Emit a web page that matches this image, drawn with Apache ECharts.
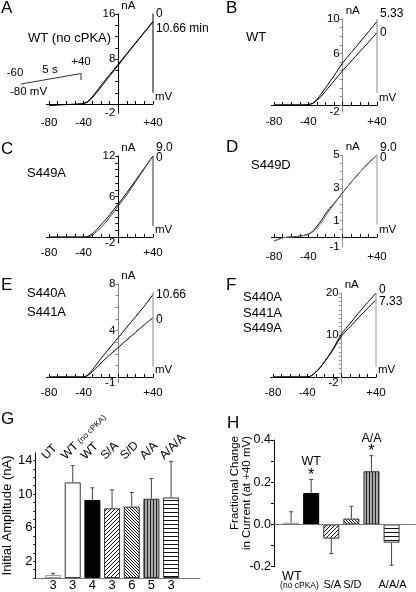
<!DOCTYPE html>
<html><head><meta charset="utf-8">
<script src="https://cdn.jsdelivr.net/npm/echarts@6.0.0/dist/echarts.min.js"></script>
<style>html,body{margin:0;padding:0;background:#fff;}#chart{width:416px;height:592px;}</style>
</head><body><div id="chart"></div>
<script>
// ================= DATA =================
// I-V ramps: membrane potential (mV) and current (nA)
const mV = [-80,-70,-60,-50,-45,-40,-35,-30,-25,-20,-15,-10,0,10,20,30,40];
const A_0min    = [-0.3,-0.15,-0.1,-0.05,0,0.1,0.5,1.3,2.3,3.3,4.3,5.2,7.1,9.0,10.9,12.8,14.7];
const A_1066min = [-0.3,-0.15,-0.1,-0.05,0,0.05,0.4,1.1,2.0,3.0,4.0,5.0,6.9,8.9,10.8,12.7,14.6];
const B_0min    = [0,0,0,0,0,0.05,0.2,0.55,1.0,1.6,2.2,2.8,4.0,5.1,6.2,7.3,8.4];
const B_533min  = [0,0,0,0,0,0.05,0.2,0.65,1.3,2.0,2.7,3.4,4.9,6.1,7.3,8.5,9.7];
const C_0min    = [0,0,0,0,0,0,0.1,0.5,1.1,1.8,2.5,3.3,4.9,6.6,8.4,10.2,12.0];
const C_9min    = [0,0,0,0,0,0,0.02,0.25,0.8,1.4,2.1,2.9,4.6,6.3,8.2,10.1,12.0];
const D_0min    = [-0.25,-0.05,0,0.05,0.1,0.18,0.35,0.65,1.0,1.4,1.75,2.05,2.7,3.35,3.95,4.5,5.0];
const D_9min    = [-0.25,-0.05,0,0.05,0.1,0.15,0.3,0.55,0.85,1.25,1.65,2.0,2.7,3.35,3.95,4.5,5.0];
const E_0min    = [0,0,0,0,0,0,0.15,0.45,0.8,1.2,1.55,1.9,2.55,3.2,3.85,4.5,5.1];
const E_1066min = [0,0,0,0,0,0,0.2,0.6,1.1,1.6,2.05,2.5,3.4,4.3,5.2,6.1,7.1];
const F_0min    = [0,0,0,0,0,0,0.35,1.2,2.3,3.6,5.1,6.7,10.3,12.8,15.3,17.7,20.0];
const F_733min  = [0,0,0,0,0,0,0.35,1.2,2.3,3.6,5.0,6.5,9.8,12.0,14.2,16.3,18.4];
// current trace at the +40 mV step (from, to), nA
const A_step = [16.3, 2.0];
const B_step = [10, 1.4];
const C_step = [12, 1.6];
const D_step = [5, 0.75];
const E_step = [7.3, 0.9];
const F_step = [20, 2.5];
// I-V tick labels
const ivXLabels = [-80, -40, 40];
const A_yLabels = [8, 16],   A_yMinText = '-2';
const B_yLabels = [6, 10],   B_yMinText = '-2';
const C_yLabels = [6, 12],   C_yMinText = '-2';
const D_yLabels = [1, 3, 5], D_yMinText = '-1';
const E_yLabels = [4, 8],    E_yMinText = '-1';
const F_yLabels = [10, 20],  F_yMinText = '-2';

// Panel G
const gCats    = ['UT', 'WT (no cPKA)', 'WT', 'S/A', 'S/D', 'A/A', 'A/A/A'];
const gMean    = [0.35, 11.4, 9.3, 8.3, 8.5, 9.45, 9.6];
const gErrTop  = [0.55, 13.4, 10.75, 10.5, 10.2, 11.85, 13.9];
const gN       = [3, 3, 4, 3, 6, 5, 3];
const gYLabels = [2, 6, 10, 14];

// Panel H
const hCats    = ['WT (no cPKA)', 'WT', 'S/A', 'S/D', 'A/A', 'A/A/A'];
const hMean    = [0.008, 0.149, -0.067, 0.028, 0.252, -0.086];
const hErrEnd  = [0.06, 0.213, -0.138, 0.086, 0.326, -0.193];
const hSig     = [false, true, false, false, true, false];
const hYLabels = [-0.2, 0, 0.2, 0.4];

// ================= STYLE / LAYOUT =================
const FF = "'Liberation Sans',Arial,sans-serif";
const font = s => s + "px 'Liberation Sans',Arial,sans-serif";

function makePattern(kind) {
  const c = document.createElement('canvas');
  const ctx = c.getContext('2d');
  if (kind === 'vert') {
    c.width = 3; c.height = 1;
    ctx.fillStyle = '#aaa'; ctx.fillRect(0,0,3,1);
    ctx.fillStyle = '#222'; ctx.fillRect(0,0,1,1);
    return c;
  }
  if (kind === 'horz') {
    c.width = 1; c.height = 4;
    ctx.fillStyle = '#fff'; ctx.fillRect(0,0,1,4);
    ctx.fillStyle = '#111'; ctx.fillRect(0,0,1,1);
    return c;
  }
  const n = kind === 'fwd' ? 4 : 3;
  c.width = n; c.height = n;
  ctx.fillStyle = '#fff'; ctx.fillRect(0,0,n,n);
  ctx.strokeStyle = '#111'; ctx.lineWidth = 1;
  ctx.beginPath();
  if (kind === 'fwd') {
    ctx.moveTo(-1, n+1); ctx.lineTo(n+1, -1);
    ctx.moveTo(-1, 1); ctx.lineTo(1, -1);
    ctx.moveTo(n-1, n+1); ctx.lineTo(n+1, n-1);
  } else {
    ctx.moveTo(-1, -1); ctx.lineTo(n+1, n+1);
    ctx.moveTo(n-1, -1); ctx.lineTo(n+1, 1);
    ctx.moveTo(-1, n-1); ctx.lineTo(1, n+1);
  }
  ctx.stroke();
  return c;
}
const fills = {
  whiteGray: {color:'#fff', borderColor:'#999', borderWidth:1},
  white:     {color:'#fff', borderColor:'#333', borderWidth:1},
  black:     {color:'#000', borderColor:'#000', borderWidth:1},
  fwd:       {color:{image:makePattern('fwd'), repeat:'repeat'}, borderColor:'#333', borderWidth:1},
  back:      {color:{image:makePattern('back'), repeat:'repeat'}, borderColor:'#333', borderWidth:1},
  vert:      {color:{image:makePattern('vert'), repeat:'repeat'}, borderColor:'#333', borderWidth:1},
  horz:      {color:{image:makePattern('horz'), repeat:'repeat'}, borderColor:'#333', borderWidth:1}
};
const gFill = ['whiteGray','white','black','fwd','back','vert','horz'];
const hFill = ['whiteGray','black','fwd','back','vert','horz'];

const ivPanels = [
  {traces:[[A_0min,'0',-8,'#000'],[A_1066min,'10.66 min',7,'#000']], step:A_step, yLab:A_yLabels, yMin:A_yMinText, tick:2, max:16,
   box:{x0:49,x1:153,y0:104,yTop:14,ext:9}, axisColor:'#000', stepColor:'#000'},
  {traces:[[B_533min,'5.33',-8,'#000'],[B_0min,'0',0,'#000']], step:B_step, yLab:B_yLabels, yMin:B_yMinText, tick:1, max:10,
   box:{x0:274,x1:377,y0:105,yTop:19,ext:7}, axisColor:'#888', stepColor:'#888'},
  {traces:[[C_0min,'9.0',-8,'#000'],[C_9min,'0',2,'#444']], step:C_step, yLab:C_yLabels, yMin:C_yMinText, tick:1, max:12,
   box:{x0:49,x1:153,y0:237,yTop:156,ext:6}, axisColor:'#000', stepColor:'#333'},
  {traces:[[D_0min,'9.0',-7,'#000'],[D_9min,'0',3,'#777']], step:D_step, yLab:D_yLabels, yMin:D_yMinText, tick:0.5, max:5,
   box:{x0:274,x1:377,y0:237,yTop:155,ext:10}, axisColor:'#999', stepColor:'#999'},
  {traces:[[E_1066min,'10.66',0,'#000'],[E_0min,'0',2,'#000']], step:E_step, yLab:E_yLabels, yMin:E_yMinText, tick:1, max:8,
   box:{x0:49,x1:153,y0:377,yTop:284,ext:6}, axisColor:'#888', stepColor:'#888'},
  {traces:[[F_0min,'0',-3,'#000'],[F_733min,'7.33',2,'#000']], step:F_step, yLab:F_yLabels, yMin:F_yMinText, tick:1, max:20,
   box:{x0:273,x1:376,y0:377,yTop:293,ext:6}, axisColor:'#999', stepColor:'#999'}
];

const grid = [], xAxis = [], yAxis = [], series = [];
const lblFont = {fontFamily:FF, fontSize:11.5, color:'#000'};

ivPanels.forEach((p, i) => {
  const b = p.box;
  const sx = (b.x1 - b.x0) / 120, sy = (b.y0 - b.yTop) / p.max;
  const ymin = -b.ext / sy;
  grid.push({left:b.x0 - 3*sx, top:b.yTop, width:123*sx, height:b.y0 - b.yTop + b.ext});
  const xt = []; for (let v = -80; v <= 40; v += 10) xt.push(v);
  const yt = []; for (let v = 0; v <= p.max + 1e-9; v += p.tick) yt.push(+v.toFixed(3));
  xAxis.push({gridIndex:i, type:'value', min:-83, max:40,
    axisLine:{onZero:true, lineStyle:{color:'#000', width:1}},
    axisTick:{customValues:xt, inside:true, length:3, lineStyle:{color:'#000'}},
    axisLabel:Object.assign({customValues:ivXLabels, margin:4, formatter:v => v > 0 ? '+' + v : String(v)}, lblFont),
    splitLine:{show:false},
    name:'mV', nameLocation:'end', nameGap:2,
    nameTextStyle:{fontFamily:FF, fontSize:11.5, color:'#000', align:'left', verticalAlign:'bottom', padding:[0,0,1,0]}});
  // y axis drawn at 0 mV: shifted from the grid's left edge by the span -83..0 mV
  yAxis.push({gridIndex:i, type:'value', min:ymin, max:p.max, position:'left', offset:-83*sx,
    axisLine:{onZero:false, lineStyle:{color:p.axisColor, width:1}},
    axisTick:{customValues:yt, length:3, lineStyle:{color:p.axisColor}},
    axisLabel:Object.assign({customValues:[ymin].concat(p.yLab), margin:3,
      formatter:v => Math.abs(v - ymin) < 1e-6 ? p.yMin : String(v)}, lblFont),
    splitLine:{show:false},
    name:'nA', nameLocation:'end', nameGap:2,
    nameTextStyle:{fontFamily:FF, fontSize:11.5, color:'#000', align:'left', verticalAlign:'bottom', padding:[0,0,0,3]}});
  p.traces.forEach(t => {
    series.push({type:'line', xAxisIndex:i, yAxisIndex:i, smooth:0.3, showSymbol:false, silent:true,
      data:mV.map((x,k) => [x, t[0][k]]),
      lineStyle:{color:t[3], width:1},
      endLabel:{show:true, formatter:t[1], distance:3, offset:[0, t[2]], fontFamily:FF, fontSize:12, color:'#000'}});
  });
  series.push({type:'line', xAxisIndex:i, yAxisIndex:i, showSymbol:false, silent:true,
    data:[[40, p.step[0]], [40, p.step[1]]], lineStyle:{color:p.stepColor, width:1}});
});

// ---------- bar panels: error bars + category texts placed through the axes' scales ----------
function errRender(params, api) {
  const isH = params.seriesName === 'hErr';
  const k = params.dataIndex;
  const x = api.value(0), v = api.value(1), e = api.value(2);
  const p0 = api.coord([x, v]), p1 = api.coord([x, e]);
  const st = {stroke:'#444', lineWidth:1};
  const ch = [
    {type:'line', shape:{x1:p0[0], y1:p0[1], x2:p1[0], y2:p1[1]}, style:st},
    {type:'line', shape:{x1:p1[0]-2, y1:p1[1], x2:p1[0]+2, y2:p1[1]}, style:st}
  ];
  if (!isH) {
    const top = api.coord([x, 14.9])[1];
    const s = gCats[k], j = s.indexOf('(');
    const txt = j > 0 ? '{a|' + s.slice(0, j) + '}{b|' + s.slice(j) + '}' : '{a|' + s + '}';
    ch.push({type:'text', x:p0[0] - 5, y:top + 9, rotation:Math.PI/4,
      style:{text:txt, align:'left', verticalAlign:'bottom',
        rich:{a:{font:font(12), fill:'#000'}, b:{font:font(8), fill:'#000'}}}});
  } else {
    const cx = api.coord([x, 0])[0];
    const yb = api.coord([x, -0.2])[1];
    const s = hCats[k];
    if (hSig[k]) {
      ch.push({type:'text', style:{text:'*', x:p1[0], y:p1[1]+4, align:'center', verticalAlign:'bottom', font:font(16), fill:'#000'}});
      ch.push({type:'text', style:{text:s, x:p1[0], y:p1[1]-11, align:'center', verticalAlign:'bottom', font:font(12.5), fill:'#000'}});
    } else {
      const j = s.indexOf('(');
      if (j > 0) {
        ch.push({type:'text', style:{text:s.slice(0, j).trim(), x:cx-9, y:yb+9.5, align:'left', verticalAlign:'middle', font:font(12.5), fill:'#000'}});
        ch.push({type:'text', style:{text:s.slice(j), x:cx-11, y:yb+19, align:'left', verticalAlign:'middle', font:font(8.5), fill:'#000'}});
      } else {
        ch.push({type:'text', style:{text:s, x:cx+1, y:yb+18.5, align:'center', verticalAlign:'middle', font:font(11), fill:'#000'}});
      }
    }
  }
  return {type:'group', children:ch};
}

// ---------- Panel G ----------
const gGrid = grid.length;
grid.push({left:33, top:453, width:167, height:126.5});
const gX = xAxis.length;
xAxis.push({gridIndex:gGrid, type:'value', min:-0.9, max:7.47,
  axisLine:{onZero:false, lineStyle:{color:'#777'}}, axisTick:{show:false}, splitLine:{show:false},
  axisLabel:{customValues:gN.map((_,k)=>k), formatter:v => String(gN[v]), margin:1, fontFamily:FF, fontSize:13, color:'#000'}});
const gY = yAxis.length;
const gTicks = []; for (let v = 0; v <= 14; v++) gTicks.push(v);
yAxis.push({gridIndex:gGrid, type:'value', min:0, max:14.9,
  axisLine:{onZero:false, lineStyle:{color:'#000'}}, axisTick:{customValues:gTicks, length:2, lineStyle:{color:'#000'}},
  axisLabel:{customValues:gYLabels, margin:3, fontFamily:FF, fontSize:13, color:'#000'},
  splitLine:{show:false},
  name:'Initial Amplitude (nA)', nameLocation:'middle', nameGap:17,
  nameTextStyle:{fontFamily:FF, fontSize:13, color:'#000'}});
series.push({type:'bar', xAxisIndex:gX, yAxisIndex:gY, barWidth:16, silent:true,
  data:gMean.map((v,k) => ({value:[k, v], itemStyle:fills[gFill[k]]}))});
series.push({type:'custom', name:'gErr', xAxisIndex:gX, yAxisIndex:gY, silent:true, renderItem:errRender, z:3,
  data:gMean.map((v,k) => [k, v, gErrTop[k]])});

// ---------- Panel H ----------
const hGrid = grid.length;
grid.push({left:274, top:440, width:141.7, height:126.7});
const hX = xAxis.length;
xAxis.push({gridIndex:hGrid, type:'value', min:-0.85, max:6.2,
  axisLine:{show:false, onZero:false}, axisTick:{show:false}, axisLabel:{show:false}, splitLine:{show:false}});
const hY = yAxis.length;
const hTicks = [-0.2,-0.1,0,0.1,0.2,0.3,0.4];
yAxis.push({gridIndex:hGrid, type:'value', min:-0.2, max:0.4,
  axisLine:{onZero:false, lineStyle:{color:'#000'}}, axisTick:{customValues:hTicks, length:3, lineStyle:{color:'#000'}},
  axisLabel:{customValues:hYLabels, margin:3, formatter:v => v.toFixed(1), fontFamily:FF, fontSize:12.5, color:'#000'},
  splitLine:{show:false}});
series.push({type:'bar', xAxisIndex:hX, yAxisIndex:hY, barWidth:16, silent:true,
  data:hMean.map((v,k) => ({value:[k, v], itemStyle:fills[hFill[k]]})),
  markLine:{silent:true, symbol:'none', label:{show:false}, lineStyle:{color:'#777', type:'solid', width:1},
    data:[{yAxis:0}]}});
series.push({type:'custom', name:'hErr', xAxisIndex:hX, yAxisIndex:hY, silent:true, renderItem:errRender, z:3,
  data:hMean.map((v,k) => [k, v, hErrEnd[k]])});

// ---------- graphic texts ----------
function T(x, y, text, fnt, extra) {
  return {type:'text', x:x, y:y, silent:true,
    style:Object.assign({text:text, font:fnt, fill:'#000', align:'left', verticalAlign:'middle'}, extra || {})};
}
const big = font(17), ttl = font(13), sml = font(11.5);
const graphic = [
  T(1, 8, 'A', big), T(226, 8, 'B', big), T(1, 149, 'C', big), T(226, 147, 'D', big),
  T(1, 285, 'E', big), T(226, 285, 'F', big), T(1, 419, 'G', big), T(227, 423, 'H', big),
  T(28, 38, 'WT (no cPKA)', ttl), T(246, 37, 'WT', ttl), T(27, 173, 'S449A', ttl), T(251, 165, 'S449D', ttl),
  T(27, 293, 'S440A', ttl), T(27, 312, 'S441A', ttl),
  T(243, 297, 'S440A', ttl), T(243, 313, 'S441A', ttl), T(243, 328, 'S449A', ttl),
  {type:'polyline', silent:true, shape:{points:[[21,84],[81,73.5],[81,80]]}, style:{stroke:'#333', lineWidth:1, fill:null}},
  T(15, 73, '-60', sml, {align:'center'}), T(50, 70, '5 s', sml, {align:'center'}),
  T(81, 62, '+40', sml, {align:'center'}), T(10, 92, '-80 mV', sml),
  {type:'text', x:241, y:436, rotation:Math.PI/2, silent:true,
   style:{text:'Fractional Change\nin Current (at +40 mV)', font:font(11.5), fill:'#000', align:'right', verticalAlign:'middle', lineHeight:12}}
];

const chart = echarts.init(document.getElementById('chart'), null, {renderer:'canvas'});
chart.setOption({animation:false, backgroundColor:'#fff', grid, xAxis, yAxis, series, graphic});
</script></body></html>
